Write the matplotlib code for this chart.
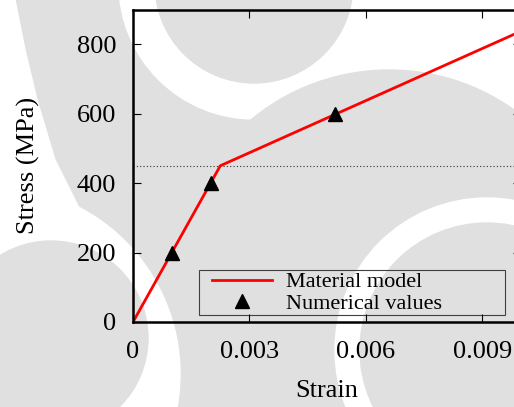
import matplotlib
matplotlib.use("Agg")
import matplotlib.pyplot as plt
from matplotlib.patches import Circle, Polygon, Rectangle

# material model (bilinear) and numerical results
model_strain = [0.0, 0.00225, 0.01]
model_stress = [0.0, 450.0, 837.5]
num_strain = [0.001, 0.002, 0.0052]
num_stress = [200.0, 400.0, 600.0]
yield_stress = 450.0

xticks = [0.0, 0.003, 0.006, 0.009]
xtick_labels = ["0", "0.003", "0.006", "0.009"]
yticks = [0, 200, 400, 600, 800]

W, H = 514, 407
GRAY = "#e0e0e0"

plt.rcParams["font.family"] = ["Liberation Serif", "DejaVu Serif"]

fig = plt.figure(figsize=(W / 100, H / 100), dpi=100)

# watermark behind the plot (pixel coords, y down)
bg = fig.add_axes([0, 0, 1, 1], zorder=0)
bg.set_xlim(0, W)
bg.set_ylim(H, 0)
bg.axis("off")
bg.add_patch(Rectangle((0, 0), W, H, color=GRAY))
bg.add_patch(Rectangle((300, 0), W - 300, 140, color="white"))
bg.add_patch(Circle((254, -16), 135, color="white"))
bg.add_patch(Circle((389, 286), 216, color=GRAY))
bg.add_patch(Circle((254, -16), 99, color=GRAY))
bg.add_patch(Polygon([(0, 0), (15, 0), (25, 50), (37, 100), (55, 160),
                      (80, 210), (110, 235), (0, 300)], color="white"))
bg.add_patch(Circle((-8, 374), 188, color="white"))
bg.add_patch(Circle((51, 338), 97, color=GRAY))
bg.add_patch(Circle((487, 350), 152, color="white"))
bg.add_patch(Circle((487, 350), 127, color=GRAY))

ax = fig.add_axes([133 / W, 1 - 322 / H, 388 / W, 312.5 / H], zorder=1)
ax.patch.set_alpha(0)

ax.axhline(yield_stress, color="#333333", lw=0.8, dashes=(1, 2))
ax.plot(model_strain, model_stress, color="red", lw=2, label="Material model")
ax.plot(num_strain, num_stress, "^", color="black", ms=10, label="Numerical values")

ax.set_xlim(0, 0.01)
ax.set_ylim(0, 900)
ax.set_xticks(xticks)
ax.set_xticklabels(xtick_labels)
ax.set_yticks(yticks)
ax.tick_params(direction="in", length=6, width=0.8, labelsize=19,
               top=True, right=True)
ax.tick_params(axis="x", pad=13.5)
ax.tick_params(axis="y", pad=12)
for s in ax.spines.values():
    s.set_linewidth(1.8)

ax.set_xlabel("Strain", fontsize=19)
ax.set_ylabel("Stress (MPa)", fontsize=19)
ax.xaxis.set_label_coords(0.5, -0.187)
ax.yaxis.set_label_coords(-0.240, 0.5)

# legend box spans wider than its text, as in the original
bg.add_patch(Rectangle((198.5, 269.5), 306, 45, fill=False, ec="#404040", lw=0.8, zorder=5))
ax.legend(loc="center left", bbox_to_anchor=(212 / W, 1 - 293 / H),
          bbox_transform=fig.transFigure, frameon=False, fontsize=16,
          borderpad=0, borderaxespad=0, handlelength=2.7, handletextpad=0.62,
          labelspacing=0.05, numpoints=1)

fig.savefig("out.png", dpi=100)
